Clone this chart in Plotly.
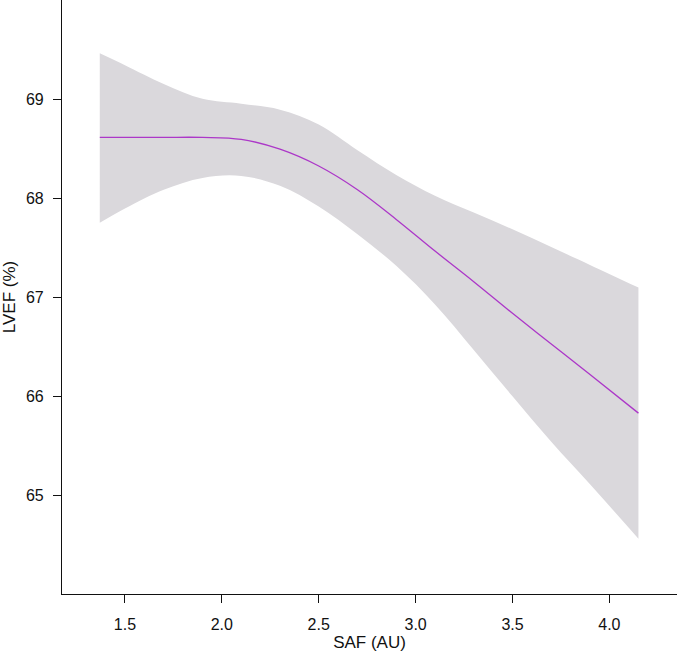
import plotly.graph_objects as go

# Data
saf = [1.37, 1.5, 1.7, 1.9, 2.1, 2.3, 2.5, 2.7, 2.9, 3.1, 3.3, 3.5, 3.7, 3.9, 4.15]
lvef_fit = [68.62, 68.62, 68.62, 68.62, 68.60, 68.50, 68.33, 68.09, 67.79, 67.47, 67.16, 66.84, 66.53, 66.22, 65.83]
lvef_upper = [69.47, 69.35, 69.16, 69.01, 68.96, 68.90, 68.75, 68.49, 68.24, 68.03, 67.86, 67.69, 67.51, 67.33, 67.10]
lvef_lower = [67.755, 67.90, 68.09, 68.21, 68.23, 68.13, 67.92, 67.64, 67.32, 66.93, 66.47, 66.00, 65.54, 65.11, 64.56]

x_ticks = [1.5, 2.0, 2.5, 3.0, 3.5, 4.0]
x_ticktext = ["1.5", "2.0", "2.5", "3.0", "3.5", "4.0"]
y_ticks = [65, 66, 67, 68, 69]
y_ticktext = ["65", "66", "67", "68", "69"]

band_color = "rgb(218,216,220)"
line_color = "rgb(172,55,200)"
font_family = "Liberation Sans, Arial, sans-serif"

fig = go.Figure()
fig.add_trace(go.Scatter(
    x=saf, y=lvef_lower, mode="lines",
    line=dict(color=band_color, width=0, shape="spline", smoothing=1.0),
    hoverinfo="skip", showlegend=False))
fig.add_trace(go.Scatter(
    x=saf, y=lvef_upper, mode="lines", fill="tonexty", fillcolor=band_color,
    line=dict(color=band_color, width=0, shape="spline", smoothing=1.0),
    hoverinfo="skip", showlegend=False))
fig.add_trace(go.Scatter(
    x=saf, y=lvef_fit, mode="lines",
    line=dict(color=line_color, width=1.3, shape="spline", smoothing=1.0),
    showlegend=False))

fig.update_layout(
    width=677, height=654,
    margin=dict(l=62, r=0, t=0, b=60, pad=0),
    paper_bgcolor="white", plot_bgcolor="white",
    font=dict(family=font_family, size=16, color="#111111"),
    xaxis=dict(
        range=[1.175, 4.349], tickvals=x_ticks, ticktext=x_ticktext,
        showgrid=False, zeroline=False, showline=True, linecolor="#111111", linewidth=1.2,
        ticks="outside", ticklen=8, tickwidth=1.2, tickcolor="#111111",
        ticklabelstandoff=8, automargin=False,
        title=dict(text="SAF (AU)", font=dict(size=17), standoff=0),
    ),
    yaxis=dict(
        range=[64.0, 70.01], tickvals=y_ticks, ticktext=y_ticktext,
        showgrid=False, zeroline=False, showline=True, linecolor="#111111", linewidth=1.2,
        ticks="outside", ticklen=8, tickwidth=1.2, tickcolor="#111111",
        ticklabelstandoff=6, automargin=False,
        title=dict(text="LVEF (%)", font=dict(size=17), standoff=10),
    ),
)

fig.write_html(
    "out.html",
    config={"displayModeBar": False},
    post_script="document.body.style.margin='0';document.body.style.padding='0';document.body.style.overflow='hidden';",
)
